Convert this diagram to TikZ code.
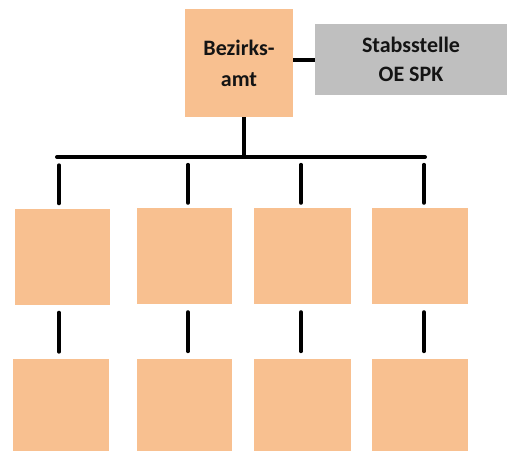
\documentclass[tikz,border=0pt]{standalone}
\usepackage{fontspec}
\setmainfont{Carlito}
\definecolor{unitfill}{HTML}{F8C090}
\definecolor{stafffill}{HTML}{BFBFBF}
\definecolor{labeltext}{HTML}{141414}
\begin{document}
\begin{tikzpicture}[x=1pt,y=-1pt,
  unit/.style={rectangle, fill=unitfill, draw=none, inner sep=0pt},
  staff/.style={rectangle, fill=stafffill, draw=none, inner sep=0pt},
  label/.style={text=labeltext, font=\fontsize{22}{31}\selectfont\bfseries, align=center},
  link/.style={line width=4pt, black},
  stub/.style={line width=4pt, black, line cap=round}]
\useasboundingbox (0,0) rectangle (507,451);

% head office and staff unit
\node[unit, minimum width=108pt, minimum height=108pt] (amt) at (239,63) {};
\node[label] at (amt.center) {Bezirks-\\amt};
\node[staff, minimum width=192pt, minimum height=71pt] (stab) at (411,59.5) {};
\node[label, font=\fontsize{22}{29}\selectfont\bfseries] at (stab.center) {Stabsstelle\\OE SPK};

% first level units
\node[unit, minimum width=95pt, minimum height=96pt] (a1) at (62.5,256.5) {};
\node[unit, minimum width=95pt, minimum height=96pt] (b1) at (184.5,256) {};
\node[unit, minimum width=97pt, minimum height=96pt] (c1) at (302.5,256) {};
\node[unit, minimum width=96pt, minimum height=96pt] (d1) at (420,256) {};

% second level units
\node[unit, minimum width=96pt, minimum height=92pt] (a2) at (61,405) {};
\node[unit, minimum width=95pt, minimum height=92pt] (b2) at (184.5,405) {};
\node[unit, minimum width=97pt, minimum height=92pt] (c2) at (302.5,405) {};
\node[unit, minimum width=96pt, minimum height=92pt] (d2) at (420,405) {};

% distribution bar
\coordinate (barL) at (57,157);
\coordinate (barR) at (425,157);
\draw[stub] (barL) -- (barR);
\draw[link] ([xshift=5pt]amt.south) -- ([xshift=5pt]amt.south |- barL);
\draw[link] (amt.east |- stab.west) -- (stab.west);

% stubs from bar to first level and between the levels
\foreach \n/\dx in {a1/-3.5,b1/3.5,c1/-1.5,d1/4}{
  \draw[stub] ([xshift=\dx pt, yshift=43pt]\n.north) -- ([xshift=\dx pt, yshift=5pt]\n.north);
  \draw[stub] ([xshift=\dx pt, yshift=-8pt]\n.south) -- ([xshift=\dx pt, yshift=-47pt]\n.south);
}
\end{tikzpicture}
\end{document}
